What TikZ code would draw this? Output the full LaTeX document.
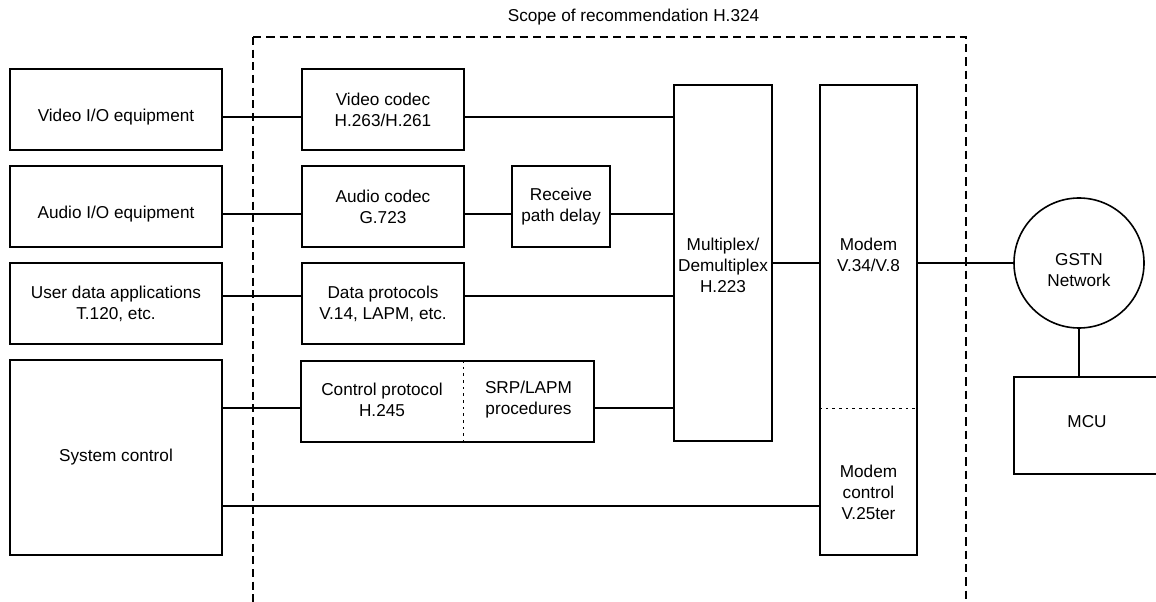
\documentclass[tikz,border=0pt]{standalone}
\usepackage{fontspec}
\setmainfont{Liberation Sans}
\usetikzlibrary{fit}
\begin{document}
\begin{tikzpicture}[x=0.75pt, y=-0.75pt,
  every node/.style={font=\fontsize{12.9pt}{15.75pt}\selectfont, align=center},
  blk/.style={draw, line width=1.3pt, rectangle, inner sep=0pt},
  link/.style={line width=1pt},
  scopeline/.style={line width=0.8pt, dash pattern=on 6.2pt off 3.8pt},
  scopeleft/.style={line width=1.4pt, dash pattern=on 6pt off 3.5pt},
  divider/.style={line width=0.7pt, dash pattern=on 2pt off 3pt}]

  % page frame
  \useasboundingbox (0,0) rectangle (1156,602);

  % scope of H.324 (open at the bottom)
  \draw[scopeline] (253,37) -- (966,37) -- (966,602);
  \draw[scopeleft] (253,37) -- (253,602);
  \node (title) at (633.5,17) {Scope of recommendation H.324};

  % heights of the horizontal links
  \coordinate (rowV) at (0,117);
  \coordinate (rowA) at (0,214);
  \coordinate (rowD) at (0,296);
  \coordinate (rowC) at (0,408);
  \coordinate (rowS) at (0,506);
  \coordinate (rowM) at (0,263);

  % terminal equipment
  \node[blk, fit={(10,69) (222,150)},
        label={[name=vio-t, yshift=-5.6pt]center:Video I/O equipment}] (vio) {};
  \node[blk, fit={(10,166) (222,247)},
        label={[name=aio-t, yshift=-5.6pt]center:Audio I/O equipment}] (aio) {};
  \node[blk, fit={(10,263) (222,344)},
        label={[name=udata-t]center:{User data applications\\T.120, etc.}}] (udata) {};
  \node[blk, fit={(10,360) (222,555)},
        label={[name=sysc-t]center:System control}] (sysc) {};

  % H.324 functional blocks
  \node[blk, fit={(302,69) (464,150)},
        label={[name=vcod-t]center:{Video codec\\H.263/H.261}}] (vcod) {};
  \node[blk, fit={(302,166) (464,247)},
        label={[name=acod-t]center:{Audio codec\\G.723}}] (acod) {};
  \node[blk, fit={(512,166) (610,247)},
        label={[name=rpd-t]center:{Receive\\path delay}}] (rpd) {};
  \node[blk, fit={(302,263) (464,344)},
        label={[name=dprot-t]center:{Data protocols\\V.14, LAPM, etc.}}] (dprot) {};
  \node[blk, fit={(301,361) (594,442)}] (ctrl) {};
  \draw[divider] (ctrl.north -| 463,0) -- (ctrl.south -| 463,0);
  \node (ctrl-a) at (382,400) {Control protocol\\H.245};
  \node (ctrl-b) at (528.5,400) {SRP/LAPM\\procedures};

  \node[blk, fit={(674,85) (772,441)},
        label={[name=mux-t, yshift=-1.5pt]center:{Multiplex/\\Demultiplex\\H.223}}] (mux) {};

  \node[blk, fit={(820,85) (917,555)}] (modem) {};
  \draw[divider] (modem.west |- rowC) -- (modem.east |- rowC);
  \node (modem-a) at (868.5,255) {Modem\\V.34/V.8};
  \node (modem-b) at (868.5,492) {Modem\\control\\V.25ter};

  % network side
  \node[draw, circle, line width=1.2pt, minimum size=97.5pt, inner sep=0pt,
        label={[name=gstn-t, yshift=-5.6pt]center:{GSTN\\Network}}] (gstn) at (1079,263) {};
  \node[blk, fit={(1014,377) (1160,474)},
        label={[name=mcu-t, yshift=2.7pt]center:MCU}] (mcu) {};

  % links
  \draw[link] (vio.east |- rowV) -- (vcod.west |- rowV);
  \draw[link] (vcod.east |- rowV) -- (mux.west |- rowV);
  \draw[link] (aio.east |- rowA) -- (acod.west |- rowA);
  \draw[link] (acod.east |- rowA) -- (rpd.west |- rowA);
  \draw[link] (rpd.east |- rowA) -- (mux.west |- rowA);
  \draw[link] (udata.east |- rowD) -- (dprot.west |- rowD);
  \draw[link] (dprot.east |- rowD) -- (mux.west |- rowD);
  \draw[link] (sysc.east |- rowC) -- (ctrl.west |- rowC);
  \draw[link] (ctrl.east |- rowC) -- (mux.west |- rowC);
  \draw[link] (sysc.east |- rowS) -- (modem.west |- rowS);
  \draw[link] (mux.east |- rowM) -- (modem.west |- rowM);
  \draw[link] (modem.east |- rowM) -- (gstn.west);
  \draw[link] (gstn.south) -- (mcu.north -| gstn.south);
\end{tikzpicture}
\end{document}
